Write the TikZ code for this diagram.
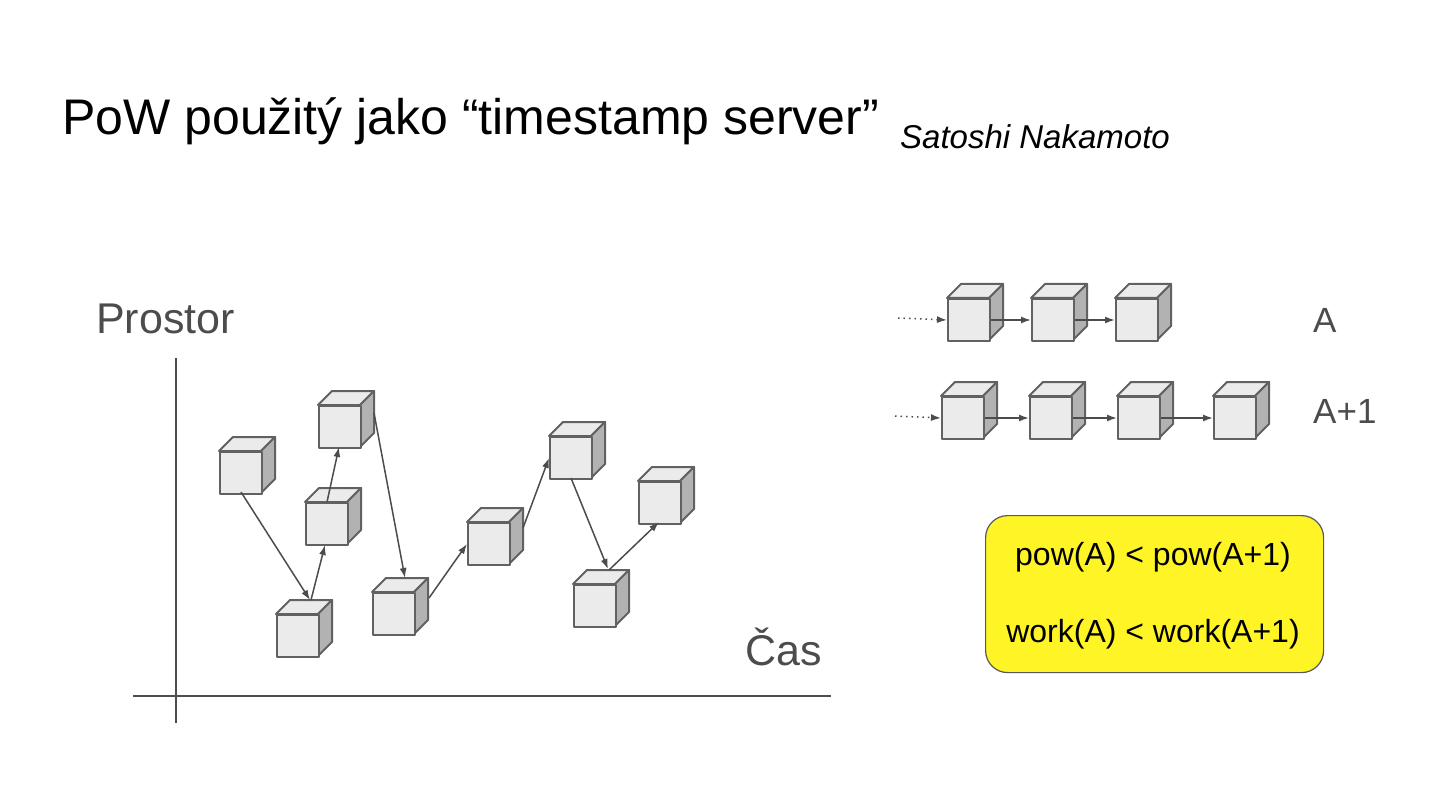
\documentclass[tikz,border=0pt]{standalone}
\usepackage{fontspec}
\setmainfont{Liberation Sans}
\usetikzlibrary{arrows.meta}
\begin{document}
\begin{tikzpicture}[x=1pt,y=-1pt,
  face/.style={draw=black!62,line width=2pt,line join=round},
  arr/.style={draw=black!70,line width=1.5pt,-{Latex[length=10pt,width=7pt]}},
  lbl/.style={text=black!70,anchor=base west,inner sep=0pt}]
\useasboundingbox (0,0) rectangle (1440,810);
\newcommand\cubeat[3]{%
  \filldraw[face,fill=black!8] (#2,#3) -- ++(14,-14) -- ++(42,0) -- ++(-14,14) -- cycle;
  \filldraw[face,fill=black!30] (#2+42,#3) -- ++(14,-14) -- ++(0,42) -- ++(-14,14) -- cycle;
  \node[face,fill=black!8,minimum size=42pt,inner sep=0pt,anchor=north west] (#1) at (#2,#3) {};}
\newcommand\at[3]{([shift={(#2,#3)}]#1.north west)}
% title
\node[anchor=base west,inner sep=0pt,font=\fontsize{50}{56}\selectfont] (title) at (62,135) {PoW použitý jako “timestamp server”};
\node[anchor=base west,inner sep=0pt,font=\fontsize{33}{38}\selectfont\itshape] (author) at (900,149) {Satoshi Nakamoto};
% axes
\coordinate (yt) at (176,358); \coordinate (yb) at (176,723);
\coordinate (xl) at (133,696); \coordinate (xr) at (831,696);
\draw[black!70,line width=1.5pt] (yt) -- (yb);
\draw[black!70,line width=1.5pt] (xl) -- (xr);
\node[lbl,font=\fontsize{43}{50}\selectfont] (prostor) at (96,333) {Prostor};
\node[lbl,font=\fontsize{43}{50}\selectfont] (cas) at (745,665) {Čas};
% cubes left
\cubeat{c1}{219}{451}
\cubeat{c2}{276}{614}
\cubeat{c3}{305}{502}
\cubeat{c4}{318}{405}
\cubeat{c5}{372}{592}
\cubeat{c6}{467}{522}
\cubeat{c7}{549}{436}
\cubeat{c8}{573}{584}
\cubeat{c9}{638}{481}
\draw[arr] \at{c1}{22}{41} -- \at{c2}{34}{-14};
\draw[arr] \at{c2}{35}{-14} -- \at{c3}{20}{43};
\draw[arr] \at{c3}{22}{0} -- \at{c4}{21}{42};
\draw[arr] \at{c4}{56}{8} -- \at{c5}{33}{-14};
\draw[arr] \at{c5}{57}{6} -- \at{c6}{0}{22};
\draw[arr] \at{c6}{56}{6} -- \at{c7}{0}{22};
\draw[arr] \at{c7}{22}{42} -- \at{c8}{35}{-15};
\draw[arr] \at{c8}{36}{-14} -- \at{c9}{21}{41};
% chain A
\cubeat{a1}{947}{298}
\cubeat{a2}{1031}{298}
\cubeat{a3}{1115}{298}
\coordinate (ad) at (898,318);
\draw[arr,dash pattern=on 1.5pt off 4pt] (ad) -- (a1.west);
\draw[arr] (a1.east) -- (a2.west);
\draw[arr] (a2.east) -- (a3.west);
% chain A+1
\cubeat{b1}{941}{396}
\cubeat{b2}{1029}{396}
\cubeat{b3}{1117}{396}
\cubeat{b4}{1213}{396}
\coordinate (bd) at (895,416);
\draw[arr,dash pattern=on 1.5pt off 4pt] (bd) -- (b1.west);
\draw[arr] (b1.east) -- (b2.west);
\draw[arr] (b2.east) -- (b3.west);
\draw[arr] (b3.east) -- (b4.west);
\node[lbl,font=\fontsize{35}{40}\selectfont] (la) at (1313,332) {A};
\node[lbl,font=\fontsize{35}{40}\selectfont] (lb) at (1313,423) {A+1};
% yellow box
\node[draw=black!65,line width=1.2pt,fill=yellow!85!white,rounded corners=22pt,minimum width=338pt,minimum height=157pt,anchor=north west,inner sep=0pt] (box) at (985,515) {};
\node[font=\fontsize{32}{38}\selectfont,inner sep=0pt] (p1) at (1153,557) {pow(A) < pow(A+1)};
\node[font=\fontsize{32}{38}\selectfont,inner sep=0pt] (p2) at (1153,634) {work(A) < work(A+1)};
\end{tikzpicture}
\end{document}
